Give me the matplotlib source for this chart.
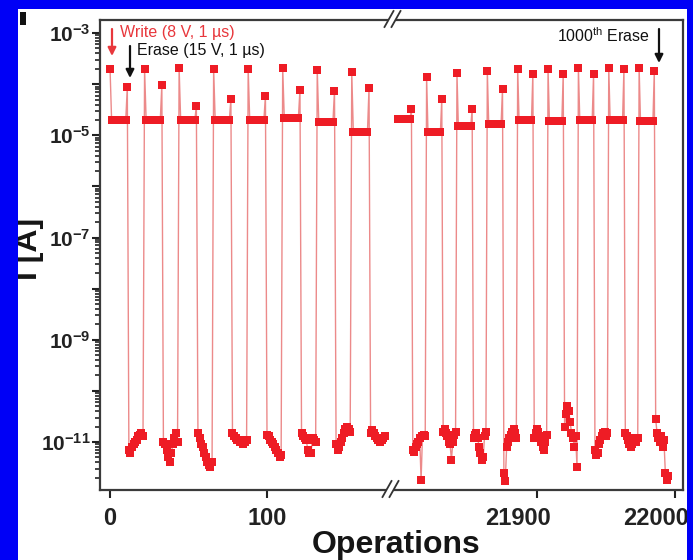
import numpy as np
import matplotlib
matplotlib.use('Agg')
import matplotlib.pyplot as plt
from matplotlib.patches import Rectangle, Polygon
from matplotlib.ticker import FixedLocator, FuncFormatter, LogLocator, NullFormatter
from matplotlib.transforms import ScaledTranslation

plt.rcParams['font.family'] = ['Liberation Sans', 'DejaVu Sans']
plt.rcParams['mathtext.fontset'] = 'custom'
plt.rcParams['mathtext.rm'] = 'Liberation Sans'
plt.rcParams['mathtext.it'] = 'Liberation Sans:italic'
plt.rcParams['mathtext.bf'] = 'Liberation Sans:bold'

# ---------------- data ----------------
# left segment (first cycles): write pulse op index, write current, ON read level, erase current, OFF reads
left_write_ops = [0, 22, 44, 66, 88, 110, 132, 154]
left_write_I = [2.0e-4, 2.0e-4, 2.1e-4, 2.0e-4, 2.0e-4, 2.1e-4, 1.9e-4, 1.7e-4]
left_on_I = [1.95e-5, 1.95e-5, 1.95e-5, 1.95e-5, 1.95e-5, 2.2e-5, 1.8e-5, 1.15e-5]
left_erase_I = [8.9e-5, 9.7e-5, 3.8e-5, 5.2e-5, 6.0e-5, 7.8e-5, 7.5e-5, 8.5e-5]
left_off_I = [
    [7e-12, 6e-12, 8e-12, 9e-12, 1.0e-11, 1.1e-11, 1.3e-11, 1.4e-11, 1.5e-11, 1.3e-11],
    [1.0e-11, 9e-12, 7e-12, 5e-12, 4e-12, 6e-12, 9e-12, 1.2e-11, 1.5e-11, 1.0e-11],
    [1.5e-11, 1.2e-11, 9e-12, 8e-12, 6e-12, 5e-12, 4e-12, 3.5e-12, 3.2e-12, 4e-12],
    [1.5e-11, 1.3e-11, 1.2e-11, 1.1e-11, 1.1e-11, 1.0e-11, 1.0e-11, 9e-12, 1.0e-11, 1.1e-11],
    [1.4e-11, 1.3e-11, 1.1e-11, 1.0e-11, 9e-12, 8e-12, 7e-12, 6e-12, 5e-12, 5.5e-12],
    [1.5e-11, 1.3e-11, 1.2e-11, 1.1e-11, 7e-12, 6e-12, 6e-12, 1.2e-11, 1.1e-11, 1.0e-11],
    [9e-12, 7e-12, 8e-12, 1.0e-11, 1.2e-11, 1.5e-11, 1.8e-11, 2.0e-11, 1.8e-11, 1.6e-11],
    [1.5e-11, 1.7e-11, 1.5e-11, 1.3e-11, 1.2e-11, 1.1e-11, 1.0e-11, 1.1e-11, 1.2e-11, 1.3e-11],
]

# right segment (last cycles, up to the 1000th erase); first cycle's write is beyond the break
right_write_ops = [21798, 21820, 21842, 21864, 21886, 21908, 21930, 21952, 21974]
right_write_I = [np.nan, 1.4e-4, 1.66e-4, 1.8e-4, 2.0e-4, 2.0e-4, 2.1e-4, 2.1e-4, 2.1e-4]
right_on_I = [2.1e-5, 1.15e-5, 1.5e-5, 1.7e-5, 2.0e-5, 1.87e-5, 2.0e-5, 2.0e-5, 1.9e-5]
right_erase_I = [3.3e-5, 5.2e-5, 3.2e-5, 8.2e-5, 1.6e-4, 1.6e-4, 1.6e-4, 2.0e-4, 1.8e-4]
right_off_I = [
    [7e-12, 6.5e-12, 8e-12, 9e-12, 1.0e-11, 1.2e-11, 1.8e-12, 1.3e-11, 1.4e-11, 1.3e-11],
    [1.6e-11, 1.8e-11, 1.5e-11, 1.3e-11, 1.0e-11, 9e-12, 4.5e-12, 1.0e-11, 1.4e-11, 1.6e-11],
    [1.2e-11, 1.4e-11, 1.5e-11, 1.2e-11, 8e-12, 6e-12, 4.5e-12, 5e-12, 1.3e-11, 1.6e-11],
    [2.5e-12, 1.7e-12, 8e-12, 1.0e-11, 1.2e-11, 1.4e-11, 1.6e-11, 1.8e-11, 1.5e-11, 1.2e-11],
    [1.2e-11, 1.5e-11, 1.8e-11, 1.6e-11, 1.3e-11, 1.0e-11, 8e-12, 7e-12, 1.0e-11, 1.4e-11],
    [2.0e-11, 3.5e-11, 5e-11, 4e-11, 2.5e-11, 1.5e-11, 1.2e-11, 8e-12, 1.3e-11, 3.2e-12],
    [7e-12, 5.5e-12, 6e-12, 9e-12, 1.1e-11, 1.3e-11, 1.5e-11, 1.6e-11, 1.3e-11, 1.5e-11],
    [1.5e-11, 1.3e-11, 1.1e-11, 9e-12, 8e-12, 9e-12, 1.1e-11, 1.2e-11, 1.0e-11, 1.2e-11],
    [2.8e-11, 1.5e-11, 1.2e-11, 1.0e-11, 1.3e-11, 8e-12, 1.1e-11, 2.5e-12, 1.8e-12, 2.2e-12],
]
N_ON_READS = 10

left_xticks = [0, 100]
right_xticks = [21900, 22000]
x_label = 'Operations'
y_label = 'I [A]'

# ---------------- helpers ----------------
def build_series(write_ops, write_I, on_I, erase_I, off_I):
    xs, ys = [], []
    for t0, w, on, e, offs in zip(write_ops, write_I, on_I, erase_I, off_I):
        if not np.isnan(w):
            xs.append(t0); ys.append(w)
        for i in range(N_ON_READS):
            xs.append(t0 + 1 + i); ys.append(on)
        xs.append(t0 + 1 + N_ON_READS); ys.append(e)
        for i, v in enumerate(offs):
            xs.append(t0 + 2 + N_ON_READS + i); ys.append(v)
    return np.array(xs), np.array(ys)

lx, ly = build_series(left_write_ops, left_write_I, left_on_I, left_erase_I, left_off_I)
rx, ry = build_series(right_write_ops, right_write_I, right_on_I, right_erase_I, right_off_I)

# ---------------- figure ----------------
W, H = 693, 560
BLUE = '#0000f6'
RED = '#ee1c25'
LINE = '#ec8a8a'
fig = plt.figure(figsize=(W / 100, H / 100), dpi=100, facecolor=BLUE)

def fx(px):
    return px / W

def fy(py):
    return 1 - py / H

fig.add_artist(Rectangle((fx(18), 0), fx(687) - fx(18), fy(9), transform=fig.transFigure,
                         facecolor='white', edgecolor='none', zorder=-10))

ax1 = fig.add_axes([fx(100), fy(490), fx(391) - fx(100), fy(20) - fy(490)])
ax2 = fig.add_axes([fx(391), fy(490), fx(683) - fx(391), fy(20) - fy(490)], sharey=ax1)

for ax, xs, ys in ((ax1, lx, ly), (ax2, rx, ry)):
    ax.plot(xs, ys, '-', color=LINE, lw=1.0, zorder=2)
    ax.plot(xs, ys, 's', color=RED, ms=6.2, mew=0, zorder=3)
    ax.set_yscale('log')
    for s in ax.spines.values():
        s.set_linewidth(1.6)
        s.set_color('#3a3a3a')

ax1.set_xlim(-6.4, 179.0)
ax2.set_xlim(21794.2, 22005.8)
ax1.set_ylim(1.15e-12, 1.8e-3)
ax1.spines['right'].set_visible(False)
ax2.spines['left'].set_visible(False)

majors = [10.0 ** k for k in range(-12, -2)]
ax1.yaxis.set_major_locator(FixedLocator(majors))
def yfmt(v, p):
    e = int(round(np.log10(v)))
    return r'$\mathbf{10^{%d}}$' % e if e % 2 != 0 else ''
ax1.yaxis.set_major_formatter(FuncFormatter(yfmt))
minors = [m * 10.0 ** k for k in range(-13, -2) for m in range(2, 10)]
ax1.yaxis.set_minor_locator(FixedLocator(minors))
ax1.yaxis.set_minor_formatter(NullFormatter())
ax1.tick_params(axis='y', which='major', direction='out', length=6, width=1.5,
                labelsize=15, pad=1, colors='#222222')
ax1.tick_params(axis='y', which='minor', direction='out', length=3.8, width=1.2, colors='#222222')
ax2.tick_params(axis='y', which='both', left=False, labelleft=False, right=False)
ax1.set_ylim(1.15e-12, 1.8e-3)

ax1.set_xticks(left_xticks)
ax2.set_xticks(right_xticks)
for ax in (ax1, ax2):
    ax.tick_params(axis='x', which='both', direction='out', length=6, width=1.5,
                   labelsize=17, pad=6, colors='#222222', top=False)
    ax.xaxis.set_minor_locator(FixedLocator([]))
    for lbl in ax.get_xticklabels():
        lbl.set_fontweight('bold')
for lbl in ax2.get_xticklabels():
    lbl.set_transform(lbl.get_transform() + ScaledTranslation(-0.19, 0, fig.dpi_scale_trans))

# overlay in pixel coordinates for annotations / break marks
ov = fig.add_axes([0, 0, 1, 1], zorder=5)
ov.set_xlim(0, W)
ov.set_ylim(H, 0)
ov.axis('off')
ov.patch.set_visible(False)

def break_mark(xc, yc):
    dx, dy, gap = 4.5, 8, 7
    ov.add_patch(Polygon([(xc - dx, yc + dy), (xc + dx, yc - dy),
                          (xc + dx + gap, yc - dy), (xc - dx + gap, yc + dy)],
                         closed=True, facecolor='white', edgecolor='none', zorder=1))
    for off in (0, gap):
        ov.plot([xc - dx + off, xc + dx + off], [yc + dy, yc - dy], color='#333333', lw=1.3, zorder=2)

break_mark(387, 489)
break_mark(389, 19)

ov.text(120, 33, 'Write (8 V, 1 µs)', color='#e8373c', fontsize=11.5, ha='left', va='center')
ov.text(137, 50, 'Erase (15 V, 1 µs)', color='#111111', fontsize=11.5, ha='left', va='center')
ov.text(557, 36, r'1000$^{\mathrm{th}}$ Erase', color='#111111', fontsize=11.5, ha='left', va='center')

def arrow(x, y0, y1, col):
    ov.annotate('', xy=(x, y1), xytext=(x, y0),
                arrowprops=dict(arrowstyle='-|>', color=col, lw=1.6, mutation_scale=12,
                                shrinkA=0, shrinkB=0))

arrow(112, 29, 56, '#e8373c')
arrow(130, 46, 78, '#111111')
arrow(659, 29, 63, '#111111')

ov.add_patch(Rectangle((20, 12), 6, 13, facecolor='#111111', edgecolor='none'))

fig.text(fx(396), fy(553), x_label, fontsize=23, fontweight='bold', ha='center',
         va='baseline', color='#151515', zorder=6)
fig.text(fx(37), fy(249), y_label, fontsize=23, fontweight='bold', ha='center',
         va='baseline', rotation=90, rotation_mode='anchor', color='#151515', zorder=6)

# blue border covers
for r in [(0, 0, fx(18), 1), (fx(687), 0, 1, 1), (0, fy(9), 1, 1)]:
    fig.add_artist(Rectangle((r[0], r[1]), r[2], r[3], transform=fig.transFigure,
                             facecolor=BLUE, edgecolor='none', zorder=20))

fig.savefig('out.png', dpi=100, facecolor=BLUE)
